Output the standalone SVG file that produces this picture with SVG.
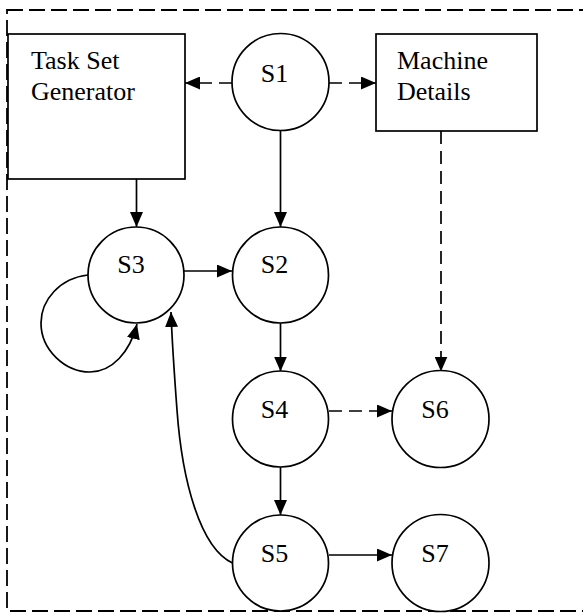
<svg xmlns="http://www.w3.org/2000/svg" width="583" height="613" viewBox="0 0 583 613">
<style>
.n{fill:#fff;stroke:#000;stroke-width:1.7}
.t{font-family:"Liberation Serif","Times New Roman",serif;font-size:26px;fill:#000}
.c{text-anchor:middle}
.e{fill:none;stroke:#000;stroke-width:1.7}
.d{stroke-dasharray:13 7}
.b{fill:none;stroke:#000;stroke-width:1.8;stroke-dasharray:16 6}
</style>
<defs>
<marker id="ah" markerUnits="userSpaceOnUse" markerWidth="15" markerHeight="13" refX="15" refY="6.5" orient="auto">
<path d="M0,0 L15,6.5 L0,13 z" fill="#000"/>
</marker>
</defs>
<rect class="b" x="7" y="10" width="600" height="601"/>
<g id="connectors">
<path class="e d" d="M232,83 L185,83" marker-end="url(#ah)"/>
<path class="e d" d="M329,83 L376,83" marker-end="url(#ah)"/>
<path class="e" d="M136.5,179 L136.5,227" marker-end="url(#ah)"/>
<path class="e" d="M280.5,131 L280.5,227" marker-end="url(#ah)"/>
<path class="e" d="M184,271 L232,271" marker-end="url(#ah)"/>
<path class="e" d="M280.5,323 L280.5,371.5" marker-end="url(#ah)"/>
<path class="e d" d="M441,131 L441,371.5" marker-end="url(#ah)"/>
<path class="e d" d="M329,411 L392,411" marker-end="url(#ah)"/>
<path class="e" d="M280.5,467 L280.5,515" marker-end="url(#ah)"/>
<path class="e" d="M329,555 L392,555" marker-end="url(#ah)"/>
<path class="e" d="M88,275 C60,278 41,300 41,323 C41,350 65,372 90,372 C112,372 130,352 137,324" marker-end="url(#ah)"/>
<path class="e" d="M232.5,563 C200,548 182,480 177,410 C174,370 172,340 171,312" marker-end="url(#ah)"/>
</g>
<g id="task-set-generator">
<rect class="n" x="8" y="34" width="177" height="145"/>
<text class="t" x="31" y="69">Task Set</text>
<text class="t" x="31" y="100">Generator</text>
</g>
<g id="machine-details">
<rect class="n" x="376" y="34" width="161" height="97"/>
<text class="t" x="397" y="69">Machine</text>
<text class="t" x="397" y="100">Details</text>
</g>
<g id="s1"><circle class="n" cx="280.5" cy="82" r="48.5"/><text class="t c" x="274.5" y="82">S1</text></g>
<g id="s2"><circle class="n" cx="280.5" cy="275" r="48"/><text class="t c" x="274.5" y="273">S2</text></g>
<g id="s3"><circle class="n" cx="136" cy="275" r="48"/><text class="t c" x="131" y="273">S3</text></g>
<g id="s4"><circle class="n" cx="280.5" cy="419" r="48"/><text class="t c" x="274.5" y="418">S4</text></g>
<g id="s5"><circle class="n" cx="280.5" cy="563" r="48"/><text class="t c" x="274.5" y="562">S5</text></g>
<g id="s6"><circle class="n" cx="440.5" cy="419" r="48.5"/><text class="t c" x="435" y="418">S6</text></g>
<g id="s7"><circle class="n" cx="440.5" cy="563" r="48.5"/><text class="t c" x="435" y="562">S7</text></g>
</svg>
